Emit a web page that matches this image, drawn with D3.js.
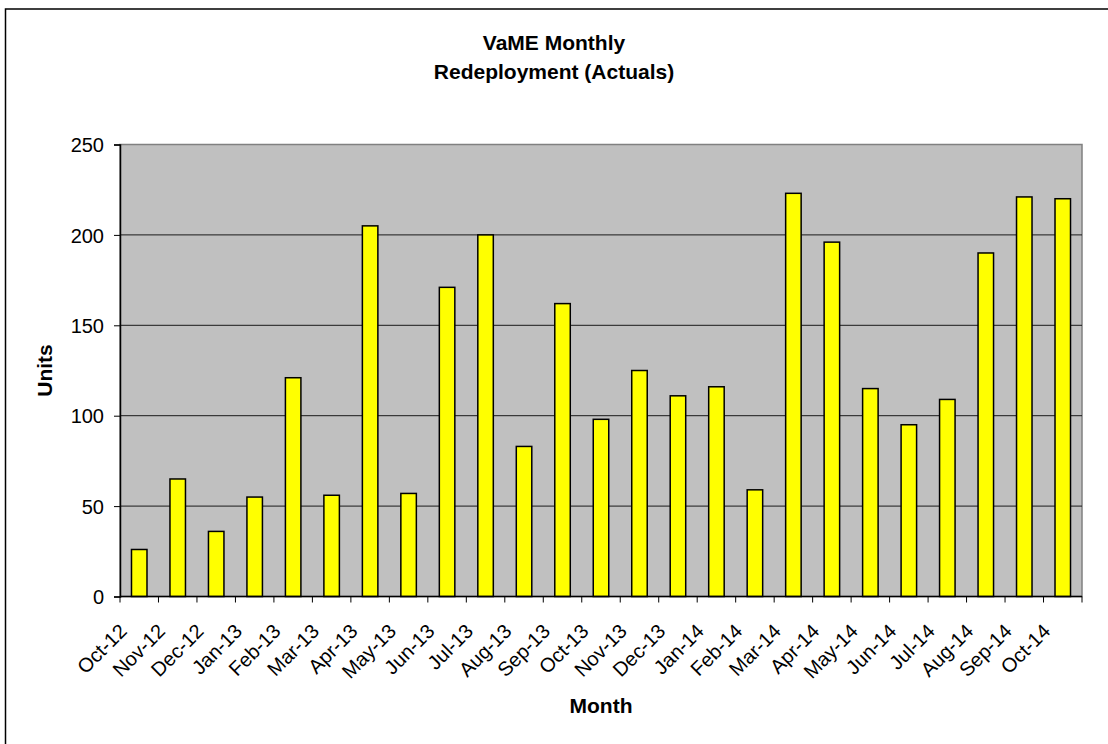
<!DOCTYPE html>
<html>
<head>
<meta charset="utf-8">
<title>VaME Monthly Redeployment</title>
<script src="https://cdn.jsdelivr.net/npm/d3@7"></script>
<style>
  body { margin: 0; background: #fff; }
  text { font-family: 'Liberation Sans', Arial, sans-serif; fill: #000; }
</style>
</head>
<body>
<div id="chart"></div>
<script>
// data
const months = ['Oct-12', 'Nov-12', 'Dec-12', 'Jan-13', 'Feb-13', 'Mar-13', 'Apr-13', 'May-13',
  'Jun-13', 'Jul-13', 'Aug-13', 'Sep-13', 'Oct-13', 'Nov-13', 'Dec-13', 'Jan-14', 'Feb-14',
  'Mar-14', 'Apr-14', 'May-14', 'Jun-14', 'Jul-14', 'Aug-14', 'Sep-14', 'Oct-14'];
const units = [26, 65, 36, 55, 121, 56, 205, 57, 171, 200, 83, 162, 98, 125, 111, 116, 59,
  223, 196, 115, 95, 109, 190, 221, 220];
const yTicks = [0, 50, 100, 150, 200, 250];
const titleLines = ['VaME Monthly', 'Redeployment (Actuals)'];

let margin = { top: 144.5, right: 26, bottom: 147.5, left: 120 };
let fullW = 1108, fullH = 744;
let width = fullW - margin.left - margin.right;
let height = fullH - margin.top - margin.bottom;

let svg = d3.select('#chart').append('svg')
    .attr('width', fullW)
    .attr('height', fullH);

// chart area border (runs off the right / bottom of the picture)
svg.append('rect')
    .attr('x', 5.5).attr('y', 9)
    .attr('width', 1200).attr('height', 1200)
    .attr('fill', 'none')
    .attr('stroke', '#000')
    .attr('stroke-width', 1.5);

// title
svg.append('g').selectAll('text')
    .data(titleLines)
  .enter().append('text')
    .attr('x', fullW / 2)
    .attr('y', (d, i) => 50 + i * 29)
    .attr('text-anchor', 'middle')
    .style('font-size', '21px')
    .style('font-weight', 'bold')
    .text(d => d);

let g = svg.append('g')
    .attr('transform', 'translate(' + margin.left + ',' + margin.top + ')');

let x = d3.scaleBand().domain(months).range([0, width]).paddingInner(0.6).paddingOuter(0.3);
let xb = d3.scaleBand().domain(months).range([0, width]); // category slots, for ticks
let y = d3.scaleLinear().domain([0, 250]).range([height, 0]);

// plot area
g.append('rect')
    .attr('width', width)
    .attr('height', height)
    .attr('fill', '#c0c0c0')
    .attr('stroke', '#808080')
    .attr('stroke-width', 1.5);

// gridlines
g.append('g').selectAll('line')
    .data(yTicks.filter(d => d > 0 && d < 250))
  .enter().append('line')
    .attr('x1', 0).attr('x2', width)
    .attr('y1', d => y(d)).attr('y2', d => y(d))
    .attr('stroke', '#1a1a1a')
    .attr('stroke-width', 1);

// bars
g.append('g').selectAll('rect')
    .data(units)
  .enter().append('rect')
    .attr('x', (d, i) => xb(months[i]) + (xb.bandwidth() - 15.5) / 2)
    .attr('y', d => y(d))
    .attr('width', 15.5)
    .attr('height', d => height - y(d))
    .attr('fill', '#ffff00')
    .attr('stroke', '#000')
    .attr('stroke-width', 1.5);

// Y axis
let yAxis = g.append('g')
    .call(d3.axisLeft(y).tickValues(yTicks).tickSize(6).tickPadding(10));
yAxis.select('.domain').attr('stroke', '#000').attr('stroke-width', 1.5);
yAxis.selectAll('text').style('font-size', '20px').attr('dy', '0.36em');

// X axis - ticks sit between categories, labels hang off each slot start
let xg = g.append('g').attr('transform', 'translate(0,' + height + ')');
xg.append('line')
    .attr('x1', 0).attr('x2', width)
    .attr('stroke', '#000').attr('stroke-width', 1.5);
xg.selectAll('line.tick')
    .data(months.concat(['end']))
  .enter().append('line')
    .attr('class', 'tick')
    .attr('x1', (d, i) => i * xb.step()).attr('x2', (d, i) => i * xb.step())
    .attr('y1', 0).attr('y2', 6)
    .attr('stroke', '#000');
xg.selectAll('text')
    .data(months)
  .enter().append('text')
    .attr('text-anchor', 'end')
    .attr('transform', d => 'translate(' + (xb(d) + 8) + ',' + 36 + ') rotate(-45)')
    .style('font-size', '20px')
    .text(d => d);

// axis titles
svg.append('text')
    .attr('transform', 'translate(52,' + (margin.top + height / 2) + ') rotate(-90)')
    .attr('text-anchor', 'middle')
    .style('font-size', '21px')
    .style('font-weight', 'bold')
    .text('Units');

svg.append('text')
    .attr('x', margin.left + width / 2)
    .attr('y', 713)
    .attr('text-anchor', 'middle')
    .style('font-size', '21px')
    .style('font-weight', 'bold')
    .text('Month');
</script>
</body>
</html>
